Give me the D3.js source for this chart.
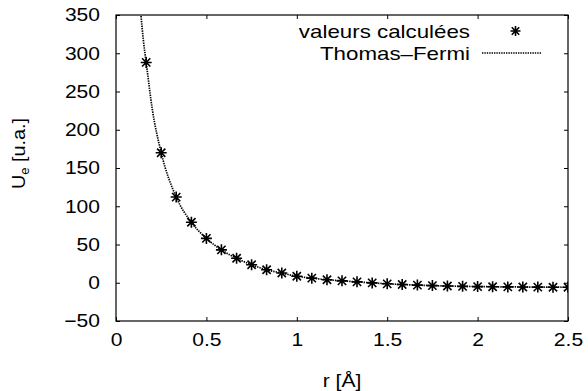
<!DOCTYPE html>
<html>
<head>
<meta charset="utf-8">
<script src="https://cdn.jsdelivr.net/npm/d3@7"></script>
<style>
  html, body { margin: 0; padding: 0; background: #fff; }
  svg { display: block; }
  text { font-family: "Liberation Sans", Arial, sans-serif; fill: #000; }
</style>
</head>
<body>
<svg id="chart" width="588" height="391"></svg>
<script>
// Computed points (r in Å, U_e in arbitrary units)
const rCalc = [0.167, 0.25, 0.333, 0.417, 0.5, 0.583, 0.667, 0.75, 0.833, 0.917,
               1.0, 1.083, 1.167, 1.25, 1.333, 1.417, 1.5, 1.583, 1.667, 1.75,
               1.833, 1.917, 2.0, 2.083, 2.167, 2.25, 2.333, 2.417, 2.5];
const uCalc = [288, 170, 112, 79, 58, 43, 32, 23.5, 17, 12.7,
               8.5, 6, 4, 2.5, 1.2, -0.2, -1.4, -2.3, -3.1, -3.7,
               -4.3, -4.7, -5.0, -5.2, -5.4, -5.6, -5.7, -5.8, -5.9];

// Thomas–Fermi curve samples
const rTF = [0.128, 0.138, 0.151, 0.167, 0.2, 0.25, 0.333, 0.417, 0.5, 0.583, 0.667,
             0.75, 0.833, 0.917, 1.0, 1.083, 1.167, 1.25, 1.333, 1.417, 1.5, 1.583,
             1.667, 1.75, 1.833, 1.917, 2.0, 2.083, 2.167, 2.25, 2.333, 2.417, 2.5];
const uTF = [380, 350, 318, 288, 228, 170, 112, 79, 58, 43, 32,
             23.5, 17, 12.7, 8.5, 6, 4, 2.5, 1.2, -0.2, -1.4, -2.3,
             -3.1, -3.7, -4.3, -4.7, -5.0, -5.2, -5.4, -5.6, -5.7, -5.8, -5.9];

const xTicks = [0, 0.5, 1, 1.5, 2, 2.5];
const xTickLabels = ["0", "0.5", "1", "1.5", "2", "2.5"];
const yTicks = [-50, 0, 50, 100, 150, 200, 250, 300, 350];
const yTickLabels = ["\u221250", "0", "50", "100", "150", "200", "250", "300", "350"];

const seriesNames = ["valeurs calculées", "Thomas\u2013Fermi"];

const svg = d3.select("#chart");
const M = { left: 116, right: 568, top: 15, bottom: 321 };
const SX = 1.17;         // horizontal widening of the lettering
const SXL = 1.24;        // legend lettering
const FS = 18;

const x = d3.scaleLinear().domain([0, 2.5]).range([M.left, M.right]);
const y = d3.scaleLinear().domain([-50, 350]).range([M.bottom, M.top]);

svg.append("defs").append("clipPath").attr("id", "plotclip")
  .append("rect").attr("x", M.left).attr("y", M.top)
  .attr("width", M.right - M.left).attr("height", M.bottom - M.top);

function styleAxis(g) {
  g.select(".domain").remove();
  g.selectAll(".tick line").attr("stroke", "#000").attr("stroke-width", 1);
  g.selectAll("text").attr("font-size", FS)
    .attr("font-family", "Liberation Sans, Arial, sans-serif")
    .attr("fill", "#000");
}

// bottom axis with labels
const gx = svg.append("g").attr("transform", `translate(0,${M.bottom})`)
  .call(d3.axisBottom(x).tickValues(xTicks).tickSizeInner(-4).tickSizeOuter(0)
    .tickPadding(12).tickFormat((d, i) => xTickLabels[i]));
styleAxis(gx);
gx.selectAll("text").attr("transform", `scale(${SX},1)`);

// left axis with labels
const gy = svg.append("g").attr("transform", `translate(${M.left},0)`)
  .call(d3.axisLeft(y).tickValues(yTicks).tickSizeInner(-4).tickSizeOuter(0)
    .tickPadding(16).tickFormat((d, i) => yTickLabels[i]));
styleAxis(gy);
gy.selectAll("text").each(function () {
  const t = d3.select(this);
  t.attr("x", +t.attr("x") / SX).attr("transform", `scale(${SX},1)`);
});

// mirrored ticks on top and right
const gt = svg.append("g").attr("transform", `translate(0,${M.top})`)
  .call(d3.axisTop(x).tickValues(xTicks).tickSizeInner(-4).tickSizeOuter(0).tickFormat(""));
styleAxis(gt);
const gr = svg.append("g").attr("transform", `translate(${M.right},0)`)
  .call(d3.axisRight(y).tickValues(yTicks).tickSizeInner(-4).tickSizeOuter(0).tickFormat(""));
styleAxis(gr);

// frame
svg.append("rect").attr("x", M.left).attr("y", M.top)
  .attr("width", M.right - M.left).attr("height", M.bottom - M.top)
  .attr("fill", "none").attr("stroke", "#000").attr("stroke-width", 1.2);

// Thomas–Fermi curve (dotted)
const line = d3.line().x((d, i) => x(rTF[i])).y((d, i) => y(uTF[i]))
  .curve(d3.curveMonotoneX);
svg.append("path").datum(uTF)
  .attr("clip-path", "url(#plotclip)")
  .attr("d", line)
  .attr("fill", "none").attr("stroke", "#000")
  .attr("stroke-width", 1.7).attr("stroke-dasharray", "1.4 1");

// asterisk marker
function star(g, cx, cy, s) {
  const p = `M${cx - s},${cy}H${cx + s}M${cx},${cy - s}V${cy + s}` +
            `M${cx - s * 0.75},${cy - s * 0.75}L${cx + s * 0.75},${cy + s * 0.75}` +
            `M${cx - s * 0.75},${cy + s * 0.75}L${cx + s * 0.75},${cy - s * 0.75}`;
  g.append("path").attr("d", p).attr("stroke", "#000").attr("stroke-width", 1.6).attr("fill", "none");
}
const gp = svg.append("g").attr("clip-path", "url(#plotclip)");
rCalc.forEach((r, i) => star(gp, x(r), y(uCalc[i]), 5.5));

// legend
function stretchedText(px, py, str, anchor, sx) {
  const g = svg.append("g").attr("transform", `translate(${px},${py}) scale(${sx},1)`);
  return g.append("text").attr("text-anchor", anchor).attr("font-size", FS).text(str);
}
stretchedText(470, 38, seriesNames[0], "end", SXL);
star(svg, 515.5, 31, 5);
stretchedText(470, 60, seriesNames[1], "end", SXL);
svg.append("line").attr("x1", 482).attr("x2", 542).attr("y1", 53).attr("y2", 53)
  .attr("stroke", "#000").attr("stroke-width", 1.6).attr("stroke-dasharray", "1.4 1");

// axis titles
stretchedText(342, 387, "r [Å]", "middle", SX);
const yl = svg.append("g").attr("transform", `translate(25,153.5) rotate(-90) scale(1.1,1)`)
  .append("text").attr("text-anchor", "middle").attr("font-size", FS);
yl.append("tspan").text("U");
yl.append("tspan").attr("font-size", 12).attr("dy", 4).text("e");
yl.append("tspan").attr("dy", -4).text(" [u.a.]");
</script>
</body>
</html>
